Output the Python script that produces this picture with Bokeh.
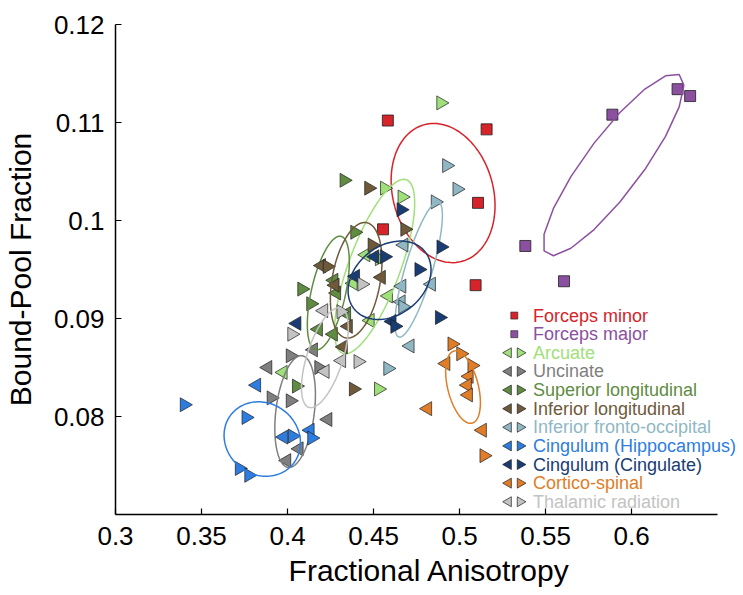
import numpy as np
from bokeh.plotting import figure
from bokeh.models import Range1d, FixedTicker, Label
from bokeh.embed import file_html
from bokeh.resources import INLINE

FONT = "Liberation Sans"

# ---------------- categories / styling lists ----------------
group_names = ["Forceps minor", "Forceps major", "Arcuate", "Uncinate",
               "Superior longitudinal", "Inferior longitudinal",
               "Inferior fronto-occipital", "Cingulum (Hippocampus)",
               "Cingulum (Cingulate)", "Cortico-spinal", "Thalamic radiation"]
group_colors = ["#d7232a", "#8c50a0", "#a0e07a", "#7f7f7f", "#5f8c41", "#6e5a3a",
                "#90b8c4", "#2d7de1", "#193c73", "#e07d28", "#c3c3c3"]

x_ticks = [0.3, 0.35, 0.4, 0.45, 0.5, 0.55, 0.6]
x_tick_labels = ["0.3", "0.35", "0.4", "0.45", "0.5", "0.55", "0.6"]
y_ticks = [0.08, 0.09, 0.1, 0.11, 0.12]
y_tick_labels = ["0.08", "0.09", "0.1", "0.11", "0.12"]
x_axis_bounds = (0.3, 0.65)

# ---------------- data (FA, BPF) ----------------
forceps_minor_fa = [0.4583, 0.5157, 0.5107, 0.4555, 0.5093]
forceps_minor_bpf = [0.1102, 0.1093, 0.1018, 0.0991, 0.0934]
forceps_major_fa = [0.6267, 0.6340, 0.5888, 0.5382, 0.5607]
forceps_major_bpf = [0.1134, 0.1127, 0.1108, 0.0974, 0.0938]

arcuate_L_fa = [0.4455, 0.4381, 0.4586, 0.4480, 0.3974]
arcuate_L_bpf = [0.0965, 0.0936, 0.0923, 0.0898, 0.0845]
arcuate_R_fa = [0.4891, 0.4564, 0.4666, 0.4534, 0.4529]
arcuate_R_bpf = [0.1120, 0.1033, 0.1024, 0.0961, 0.0828]

uncinate_L_fa = [0.4150, 0.3885, 0.4234, 0.4067, 0.3995]
uncinate_L_bpf = [0.0868, 0.0850, 0.0797, 0.0767, 0.0755]
uncinate_R_fa = [0.4016, 0.4182, 0.3905, 0.4016]
uncinate_R_bpf = [0.0862, 0.0850, 0.0819, 0.0816]

suplong_L_fa = [0.4269, 0.4285, 0.4343, 0.4179, 0.4266]
suplong_L_bpf = [0.0939, 0.0926, 0.0905, 0.0889, 0.0884]
suplong_R_fa = [0.4329, 0.4391, 0.4083, 0.4135, 0.4052]
suplong_R_bpf = [0.1041, 0.0988, 0.0930, 0.0915, 0.0831]

inflong_L_fa = [0.4197, 0.4545, 0.4353, 0.4324, 0.4276]
inflong_L_bpf = [0.0954, 0.0942, 0.0892, 0.0871, 0.0934]
inflong_R_fa = [0.4472, 0.4682, 0.4492, 0.4383, 0.4231]
inflong_R_bpf = [0.1033, 0.0991, 0.0975, 0.0828, 0.0953]

ifo_L_fa = [0.4676, 0.4664, 0.4836, 0.4660, 0.4712]
ifo_L_bpf = [0.0975, 0.0933, 0.0935, 0.0917, 0.0872]
ifo_R_fa = [0.4925, 0.4985, 0.4859, 0.4670, 0.4583]
ifo_R_bpf = [0.1056, 0.1032, 0.1019, 0.0912, 0.0849]

hippo_L_fa = [0.3820, 0.3977, 0.4131]
hippo_L_bpf = [0.0832, 0.0779, 0.0786]
hippo_R_fa = [0.3400, 0.3759, 0.3720, 0.3775, 0.4029, 0.4141]
hippo_R_bpf = [0.0812, 0.0799, 0.0747, 0.0740, 0.0780, 0.0778]

cingulate_L_fa = [0.4507, 0.4395, 0.4054, 0.4607]
cingulate_L_bpf = [0.0963, 0.0943, 0.0895, 0.0897]
cingulate_R_fa = [0.4660, 0.4892, 0.4564, 0.4764, 0.4883, 0.4624]
cingulate_R_bpf = [0.1011, 0.0973, 0.0963, 0.0950, 0.0901, 0.0892]

cortico_L_fa = [0.4920, 0.5055, 0.5045, 0.5051, 0.4814, 0.5132]
cortico_L_bpf = [0.0854, 0.0841, 0.0832, 0.0822, 0.0808, 0.0786]
cortico_R_fa = [0.4956, 0.5007, 0.5072, 0.5142]
cortico_R_bpf = [0.0874, 0.0864, 0.0852, 0.0760]

thalamic_L_fa = [0.4210, 0.4218, 0.4314]
thalamic_L_bpf = [0.0908, 0.0846, 0.0857]
thalamic_R_fa = [0.4311, 0.4432, 0.4025, 0.4410]
thalamic_R_bpf = [0.0907, 0.0935, 0.0884, 0.0856]

# 1-SD ellipses: centre, SD along each axis, correlation (one per group)
ell_fa_mean = [0.4904, 0.5894, 0.4506, 0.4044, 0.4237, 0.4399, 0.4762, 0.3853, 0.4593, 0.5020, 0.4217]
ell_bpf_mean = [0.1028, 0.1057, 0.0953, 0.0805, 0.0926, 0.0939, 0.0950, 0.0777, 0.0939, 0.0830, 0.0860]
ell_fa_sd = [0.0302, 0.0410, 0.0233, 0.0118, 0.0122, 0.0150, 0.0138, 0.0222, 0.0241, 0.0101, 0.0136]
ell_bpf_sd = [0.0071, 0.0093, 0.0089, 0.0057, 0.0058, 0.0059, 0.0069, 0.0038, 0.0040, 0.0037, 0.0051]
ell_corr = [-0.18, 0.87, 0.73, 0.30, 0.55, 0.33, 0.80, -0.10, 0.27, -0.43, 0.60]
ell_points = [120, 18, 120, 120, 120, 120, 120, 120, 120, 120, 120]

square_data = {0: (forceps_minor_fa, forceps_minor_bpf),
               1: (forceps_major_fa, forceps_major_bpf)}
triangle_data = {
    2: (arcuate_L_fa, arcuate_L_bpf, arcuate_R_fa, arcuate_R_bpf),
    3: (uncinate_L_fa, uncinate_L_bpf, uncinate_R_fa, uncinate_R_bpf),
    4: (suplong_L_fa, suplong_L_bpf, suplong_R_fa, suplong_R_bpf),
    5: (inflong_L_fa, inflong_L_bpf, inflong_R_fa, inflong_R_bpf),
    6: (ifo_L_fa, ifo_L_bpf, ifo_R_fa, ifo_R_bpf),
    7: (hippo_L_fa, hippo_L_bpf, hippo_R_fa, hippo_R_bpf),
    8: (cingulate_L_fa, cingulate_L_bpf, cingulate_R_fa, cingulate_R_bpf),
    9: (cortico_L_fa, cortico_L_bpf, cortico_R_fa, cortico_R_bpf),
    10: (thalamic_L_fa, thalamic_L_bpf, thalamic_R_fa, thalamic_R_bpf),
}

LEFT_ANGLE = np.pi / 2
RIGHT_ANGLE = -np.pi / 2
EDGE = "#1e1e1e"

# frame spans to the right canvas edge so legend text is not clipped;
# the visible x axis line is limited to x_axis_bounds
FRAME_LEFT = 111
CANVAS_W = 743
x_scale = 606.0 / (x_axis_bounds[1] - x_axis_bounds[0])
x_end = x_axis_bounds[0] + (CANVAS_W - FRAME_LEFT) / x_scale

p = figure(width=CANVAS_W, height=595,
           x_range=Range1d(x_axis_bounds[0], x_end), y_range=Range1d(0.07, 0.12),
           output_backend="svg", toolbar_location=None, tools="",
           min_border_left=FRAME_LEFT, min_border_right=0,
           min_border_top=24, min_border_bottom=81)
p.outline_line_color = None
p.xgrid.visible = False
p.ygrid.visible = False
p.background_fill_color = "white"
p.border_fill_color = "white"


def ellipse_xy(cx, cy, sx, sy, r, n):
    t = np.linspace(0, 2 * np.pi, n)
    return (cx + sx * np.cos(t),
            cy + sy * (r * np.cos(t) + np.sqrt(1 - r * r) * np.sin(t)))


for gi, name in enumerate(group_names):
    col = group_colors[gi]
    if gi in square_data:
        fa, bpf = square_data[gi]
        p.scatter(fa, bpf, marker="square", size=11, fill_color=col,
                  line_color=EDGE, line_width=0.8)
    else:
        lfa, lbpf, rfa, rbpf = triangle_data[gi]
        p.scatter(lfa, lbpf, marker="triangle", angle=LEFT_ANGLE, size=14,
                  fill_color=col, line_color=EDGE, line_width=0.7)
        p.scatter(rfa, rbpf, marker="triangle", angle=RIGHT_ANGLE, size=14,
                  fill_color=col, line_color=EDGE, line_width=0.7)
    ex, ey = ellipse_xy(ell_fa_mean[gi], ell_bpf_mean[gi], ell_fa_sd[gi],
                        ell_bpf_sd[gi], ell_corr[gi], ell_points[gi])
    p.line(ex, ey, line_color=col, line_width=1.5)

# ---------------- legend (layout in axis units) ----------------
leg_text_x = 0.5426
leg_mark_x = 0.5318
leg_pair_dx = 0.0034
leg_top = 0.0903
leg_step = 0.0019
rows_y = [leg_top - i * leg_step for i in range(len(group_names))]

for gi, name in enumerate(group_names):
    p.add_layout(Label(x=leg_text_x, y=rows_y[gi], text=name,
                       text_color=group_colors[gi], text_font=FONT,
                       text_font_size="18px", text_baseline="middle",
                       text_align="left"))

sq_idx = list(square_data.keys())
tri_idx = list(triangle_data.keys())
p.scatter([leg_mark_x] * len(sq_idx), [rows_y[i] for i in sq_idx], marker="square",
          size=7, fill_color=[group_colors[i] for i in sq_idx], line_color=EDGE,
          line_width=0.6)
p.scatter([leg_mark_x - leg_pair_dx] * len(tri_idx), [rows_y[i] for i in tri_idx],
          marker="triangle", angle=LEFT_ANGLE, size=10,
          fill_color=[group_colors[i] for i in tri_idx], line_color=EDGE, line_width=0.7)
p.scatter([leg_mark_x + leg_pair_dx] * len(tri_idx), [rows_y[i] for i in tri_idx],
          marker="triangle", angle=RIGHT_ANGLE, size=10,
          fill_color=[group_colors[i] for i in tri_idx], line_color=EDGE, line_width=0.7)

# ---------------- axes ----------------
p.xaxis.ticker = FixedTicker(ticks=x_ticks)
p.yaxis.ticker = FixedTicker(ticks=y_ticks)
p.xaxis.bounds = x_axis_bounds
p.xaxis.major_label_overrides = {t: s for t, s in zip(x_ticks, x_tick_labels)}
p.yaxis.major_label_overrides = {t: s for t, s in zip(y_ticks, y_tick_labels)}
p.xaxis.axis_label = "Fractional Anisotropy"
p.yaxis.axis_label = "Bound-Pool Fraction"
for ax in (p.xaxis[0], p.yaxis[0]):
    ax.axis_line_color = "black"
    ax.axis_line_width = 1.5
    ax.major_tick_line_color = "black"
    ax.major_tick_line_width = 1.2
    ax.major_tick_in = 6
    ax.major_tick_out = 0
    ax.minor_tick_line_color = None
    ax.major_label_text_font = FONT
    ax.major_label_text_font_size = "26px"
    ax.major_label_text_color = "black"
    ax.axis_label_text_font = FONT
    ax.axis_label_text_font_size = "30px"
    ax.axis_label_text_font_style = "normal"
    ax.axis_label_text_color = "black"
p.xaxis.major_label_standoff = 12
p.xaxis.axis_label_standoff = 6
p.yaxis.major_label_standoff = 11
p.yaxis.axis_label_standoff = 14

open("out.html", "w").write(file_html(p, INLINE))
